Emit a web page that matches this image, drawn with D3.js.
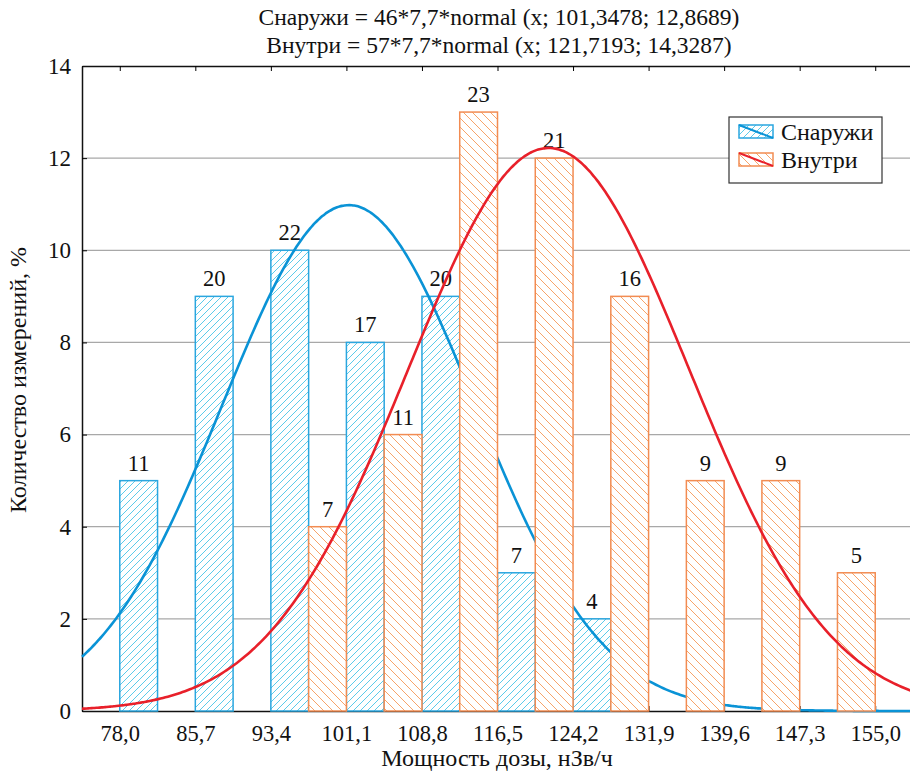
<!DOCTYPE html>
<html>
<head>
<meta charset="utf-8">
<script src="https://cdn.jsdelivr.net/npm/d3@7"></script>
<style>
  body { margin: 0; background: #fff; }
  text { font-family: "Liberation Serif", "Times New Roman", serif; fill: #111; }
</style>
</head>
<body>
<svg id="chart" width="910" height="772"></svg>
<script>
// bins (nGy/h) and percentages
var bins = [78.0, 85.7, 93.4, 101.1, 108.8, 116.5, 124.2, 131.9, 139.6, 147.3, 155.0];
var tickLabels = ["78,0", "85,7", "93,4", "101,1", "108,8", "116,5", "124,2", "131,9", "139,6", "147,3", "155,0"];
var outsideVals = [5, 9, 10, 8, 9, 3, 2, 0, 0, 0, 0];
var outsideCounts = [11, 20, 22, 17, 20, 7, 4, 0, 0, 0, 0];
var insideVals = [0, 0, 0, 4, 6, 13, 12, 9, 5, 5, 3];
var insideCounts = [0, 0, 0, 7, 11, 23, 21, 16, 9, 9, 5];
var yTicks = [0, 2, 4, 6, 8, 10, 12, 14];
// fitted normals, as given in the title
var outsideFit = [46, 7.7, 101.3478, 12.8689];
var insideFit = [57, 7.7, 121.7193, 14.3287];

(function () {
  var svg = d3.select("#chart");
  var pLeft = 82, pTop = 66, pBottom = 711, pRight = 913;
  var x = d3.scaleLinear().domain([74.15, 158.85]).range([pLeft, pRight]);
  var y = d3.scaleLinear().domain([0, 14]).range([pBottom, pTop]);
  var half = 3.85;

  var defs = svg.append("defs");
  function hatch(id, color, dir, step) {
    var p = defs.append("pattern").attr("id", id)
      .attr("patternUnits", "userSpaceOnUse")
      .attr("width", step).attr("height", step);
    p.append("rect").attr("width", step).attr("height", step).attr("fill", "#fff");
    var d = dir > 0
      ? "M0," + step + "L" + step + ",0M-1,1L1,-1M" + (step - 1) + "," + (step + 1) + "L" + (step + 1) + "," + (step - 1)
      : "M0,0L" + step + "," + step + "M-1," + (step - 1) + "L1," + (step + 1) + "M" + (step - 1) + ",-1L" + (step + 1) + ",1";
    p.append("path").attr("d", d).attr("stroke", color).attr("stroke-width", 1).attr("fill", "none");
  }
  hatch("hBlue", "#5ccbea", 1, 7);
  hatch("hOrange", "#f7a46a", -1, 9);

  // gridlines
  svg.append("g").selectAll("line").data(yTicks.filter(function (d) { return d > 0 && d < 14; }))
    .join("line")
    .attr("x1", pLeft).attr("x2", 910)
    .attr("y1", function (d) { return y(d); }).attr("y2", function (d) { return y(d); })
    .attr("stroke", "#a8a8a8").attr("stroke-width", 1.3);

  // axes
  var yAxis = svg.append("g").attr("transform", "translate(" + pLeft + ",0)")
    .call(d3.axisLeft(y).tickValues(yTicks).tickSizeInner(-5).tickSizeOuter(0).tickPadding(11).tickFormat(d3.format("d")));
  yAxis.select(".domain").attr("stroke", "#111").attr("stroke-width", 1.5);
  yAxis.selectAll("text").attr("font-size", 23).attr("font-family", "Liberation Serif");

  var xAxis = svg.append("g").attr("transform", "translate(0," + pBottom + ")")
    .call(d3.axisBottom(x).tickValues(bins).tickSizeInner(-5).tickSizeOuter(0).tickPadding(14)
      .tickFormat(function (d, i) { return tickLabels[i]; }));
  xAxis.select(".domain").attr("stroke", "#111").attr("stroke-width", 1.5);
  xAxis.selectAll("text").attr("font-size", 22.5).attr("font-family", "Liberation Serif");

  var xTop = svg.append("g").attr("transform", "translate(0," + pTop + ")")
    .call(d3.axisTop(x).tickValues(bins).tickSizeInner(-5).tickSizeOuter(0).tickFormat(""));
  xTop.select(".domain").attr("stroke", "#111").attr("stroke-width", 1.5);

  function normalCurve(fit) {
    var xs = d3.range(74.15, 158.86, 0.25);
    return xs.map(function (v) {
      var z = (v - fit[2]) / fit[3];
      return [v, fit[0] * fit[1] * Math.exp(-0.5 * z * z) / (fit[3] * Math.sqrt(2 * Math.PI))];
    });
  }
  var line = d3.line().x(function (d) { return x(d[0]); }).y(function (d) { return y(d[1]); }).curve(d3.curveMonotoneX);

  function drawBars(vals, counts, offset, fill, stroke) {
    var g = svg.append("g");
    var idx = d3.range(bins.length).filter(function (i) { return vals[i] > 0; });
    g.selectAll("rect").data(idx).join("rect")
      .attr("x", function (i) { return x(bins[i] + offset); })
      .attr("width", x(bins[0] + half) - x(bins[0]))
      .attr("y", function (i) { return y(vals[i]); })
      .attr("height", function (i) { return y(0) - y(vals[i]); })
      .attr("fill", fill).attr("stroke", stroke).attr("stroke-width", 1.5);
    g.selectAll("text").data(idx).join("text")
      .attr("x", function (i) { return x(bins[i] + offset + half / 2); })
      .attr("y", function (i) { return y(vals[i]) - 10; })
      .attr("text-anchor", "middle").attr("font-size", 22.5)
      .text(function (i) { return counts[i]; });
  }

  drawBars(outsideVals, outsideCounts, 0, "url(#hBlue)", "#2aa6df");
  svg.append("path").datum(normalCurve(outsideFit)).attr("d", line)
    .attr("fill", "none").attr("stroke", "#0a93d6").attr("stroke-width", 2.6);
  drawBars(insideVals, insideCounts, -half, "url(#hOrange)", "#f28c52");
  svg.append("path").datum(normalCurve(insideFit)).attr("d", line)
    .attr("fill", "none").attr("stroke", "#e8202a").attr("stroke-width", 2.6);

  // titles
  svg.append("text").attr("x", 499).attr("y", 25).attr("text-anchor", "middle").attr("font-size", 23.5)
    .text("Снаружи = 46*7,7*normal (x; 101,3478; 12,8689)");
  svg.append("text").attr("x", 499).attr("y", 53).attr("text-anchor", "middle").attr("font-size", 23.5)
    .text("Внутри = 57*7,7*normal (x; 121,7193; 14,3287)");
  svg.append("text").attr("x", 497).attr("y", 766).attr("text-anchor", "middle").attr("font-size", 24)
    .text("Мощность дозы, нЗв/ч");
  svg.append("text").attr("transform", "translate(26,380) rotate(-90)").attr("text-anchor", "middle").attr("font-size", 24)
    .text("Количество измерений, %");

  // legend
  var lg = svg.append("g").attr("transform", "translate(729,117)");
  lg.append("rect").attr("width", 153).attr("height", 66).attr("fill", "#fff").attr("stroke", "#333").attr("stroke-width", 1.2);
  var legendItems = [
    { name: "Снаружи", fill: "url(#hBlue)", stroke: "#2aa6df", line: "#0a93d6" },
    { name: "Внутри", fill: "url(#hOrange)", stroke: "#f28c52", line: "#e8202a" }
  ];
  legendItems.forEach(function (it, i) {
    var gy = 8 + i * 28;
    lg.append("rect").attr("x", 10).attr("y", gy).attr("width", 34).attr("height", 13)
      .attr("fill", it.fill).attr("stroke", it.stroke).attr("stroke-width", 1.5);
    lg.append("line").attr("x1", 10).attr("y1", gy).attr("x2", 44).attr("y2", gy + 13)
      .attr("stroke", it.line).attr("stroke-width", 2);
    lg.append("text").attr("x", 52).attr("y", gy + 15).attr("font-size", 24).text(it.name);
  });
})();
</script>
</body>
</html>
